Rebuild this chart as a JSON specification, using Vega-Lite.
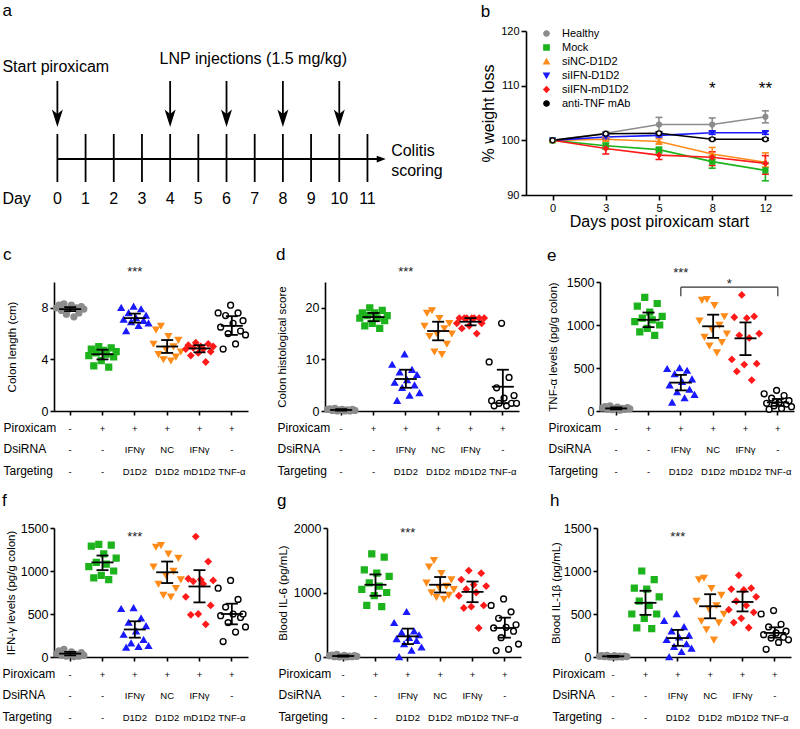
{
"$schema": "https://vega.github.io/schema/vega-lite/v6.json",
"padding": {"left": 2, "top": 2, "right": 2, "bottom": 2},
"background": "white",
"columns": 1,
"spacing": 16,
"config": {
 "font": "Liberation Sans",
 "view": {"stroke": null},
 "axis": {"grid": false, "domainColor": "#000", "domainWidth": 1.6, "tickColor": "#000", "tickWidth": 1.6, "tickSize": 4, "labelColor": "#000", "titleColor": "#000", "labelFontSize": 12, "titleFontSize": 12, "titleFontWeight": "normal", "labelFont": "Liberation Sans", "titleFont": "Liberation Sans"},
 "title": {"fontSize": 17, "fontWeight": "normal", "anchor": "start", "offset": 4, "color": "#000", "font": "Liberation Sans"},
 "text": {"font": "Liberation Sans", "color": "#000"}
},
"resolve": {"scale": {"shape": "independent", "fill": "independent", "stroke": "independent", "color": "independent"}, "legend": {"shape": "independent", "fill": "independent", "stroke": "independent", "color": "independent"}},
"datasets": {
 "tl": [
  {"x": 0, "x2": 11.5, "y": 128, "y2": 128},
  {"x": 0, "x2": 0, "y": 103, "y2": 151}, {"x": 1, "x2": 1, "y": 103, "y2": 151}, {"x": 2, "x2": 2, "y": 103, "y2": 151}, {"x": 3, "x2": 3, "y": 103, "y2": 151},
  {"x": 4, "x2": 4, "y": 103, "y2": 151}, {"x": 5, "x2": 5, "y": 103, "y2": 151}, {"x": 6, "x2": 6, "y": 103, "y2": 151}, {"x": 7, "x2": 7, "y": 103, "y2": 151},
  {"x": 8, "x2": 8, "y": 103, "y2": 151}, {"x": 9, "x2": 9, "y": 103, "y2": 151}, {"x": 10, "x2": 10, "y": 103, "y2": 151}, {"x": 11, "x2": 11, "y": 103, "y2": 151},
  {"x": 0, "x2": 0, "y": 50, "y2": 88}, {"x": 4, "x2": 4, "y": 50, "y2": 88}, {"x": 6, "x2": 6, "y": 50, "y2": 88}, {"x": 8, "x2": 8, "y": 50, "y2": 88}, {"x": 10, "x2": 10, "y": 50, "y2": 88}
 ],
 "heads": [{"x": 0, "y": 86}, {"x": 4, "y": 86}, {"x": 6, "y": 86}, {"x": 8, "y": 86}, {"x": 10, "y": 86}],
 "headR": [{"x": 11.49, "y": 128}],
 "txtL": [{"x": -1.95, "y": 36, "t": "Start piroxicam"}, {"x": -1.95, "y": 168, "t": "Day"}, {"x": 11.84, "y": 120, "t": "Colitis"}, {"x": 11.84, "y": 140, "t": "scoring"}],
 "txtC": [{"x": 6.95, "y": 28, "t": "LNP injections (1.5 mg/kg)"},
  {"x": 0, "y": 168, "t": "0"}, {"x": 1, "y": 168, "t": "1"}, {"x": 2, "y": 168, "t": "2"}, {"x": 3, "y": 168, "t": "3"}, {"x": 4, "y": 168, "t": "4"}, {"x": 5, "y": 168, "t": "5"},
  {"x": 6, "y": 168, "t": "6"}, {"x": 7, "y": 168, "t": "7"}, {"x": 8, "y": 168, "t": "8"}, {"x": 9, "y": 168, "t": "9"}, {"x": 10, "y": 168, "t": "10"}, {"x": 11, "y": 168, "t": "11"}],
 "wt": [
  {"d": 0, "g": "Healthy", "v": 100, "lo": 100, "hi": 100}, {"d": 3, "g": "Healthy", "v": 101.3, "lo": 101.0, "hi": 101.6}, {"d": 5, "g": "Healthy", "v": 102.9, "lo": 101.6, "hi": 104.2}, {"d": 8, "g": "Healthy", "v": 102.9, "lo": 101.6, "hi": 104.1}, {"d": 12, "g": "Healthy", "v": 104.3, "lo": 103.2, "hi": 105.4},
  {"d": 0, "g": "Mock", "v": 100, "lo": 100, "hi": 100}, {"d": 3, "g": "Mock", "v": 99.0, "lo": 98.4, "hi": 99.5}, {"d": 5, "g": "Mock", "v": 98.3, "lo": 97.7, "hi": 98.7}, {"d": 8, "g": "Mock", "v": 96.1, "lo": 94.9, "hi": 97.2}, {"d": 12, "g": "Mock", "v": 94.5, "lo": 92.6, "hi": 95.9},
  {"d": 0, "g": "siNC-D1D2", "v": 100, "lo": 100, "hi": 100}, {"d": 3, "g": "siNC-D1D2", "v": 100.2, "lo": 99.9, "hi": 100.5}, {"d": 5, "g": "siNC-D1D2", "v": 99.8, "lo": 99.3, "hi": 100.3}, {"d": 8, "g": "siNC-D1D2", "v": 97.5, "lo": 96.5, "hi": 98.7}, {"d": 12, "g": "siNC-D1D2", "v": 96.0, "lo": 95.1, "hi": 97.7},
  {"d": 0, "g": "siIFN-D1D2", "v": 100, "lo": 100, "hi": 100}, {"d": 3, "g": "siIFN-D1D2", "v": 100.6, "lo": 100.3, "hi": 100.9}, {"d": 5, "g": "siIFN-D1D2", "v": 100.9, "lo": 100.6, "hi": 101.2}, {"d": 8, "g": "siIFN-D1D2", "v": 101.4, "lo": 101.1, "hi": 101.7}, {"d": 12, "g": "siIFN-D1D2", "v": 101.4, "lo": 101.1, "hi": 101.7},
  {"d": 0, "g": "siIFN-mD1D2", "v": 100, "lo": 100, "hi": 100}, {"d": 3, "g": "siIFN-mD1D2", "v": 98.5, "lo": 97.5, "hi": 99.0}, {"d": 5, "g": "siIFN-mD1D2", "v": 97.3, "lo": 96.5, "hi": 98.1}, {"d": 8, "g": "siIFN-mD1D2", "v": 96.9, "lo": 95.4, "hi": 97.9}, {"d": 12, "g": "siIFN-mD1D2", "v": 95.8, "lo": 93.8, "hi": 97.2},
  {"d": 0, "g": "anti-TNF mAb", "v": 100, "lo": 100, "hi": 100}, {"d": 3, "g": "anti-TNF mAb", "v": 101.2, "lo": 101.0, "hi": 101.4}, {"d": 5, "g": "anti-TNF mAb", "v": 101.3, "lo": 101.1, "hi": 101.5}, {"d": 8, "g": "anti-TNF mAb", "v": 100.2, "lo": 100.0, "hi": 100.4}, {"d": 12, "g": "anti-TNF mAb", "v": 100.2, "lo": 100.0, "hi": 100.4}
 ],
 "wtstar": [{"d": 8, "v": 109.3, "t": "*"}, {"d": 12, "v": 109.3, "t": "**"}],
 "pts": [
  {"p": "c", "g": "Healthy", "vals": [8.0, 8.2, 7.8, 8.3, 7.5, 7.9, 8.2, 7.3, 8.0, 7.6, 8.1, 7.9]},
  {"p": "c", "g": "Mock", "vals": [4.3, 4.8, 3.5, 4.5, 5.0, 3.9, 4.7, 4.4, 3.4, 4.9, 4.2, 4.6]},
  {"p": "c", "g": "siIFN-D1D2", "vals": [8.0, 7.1, 6.2, 7.6, 6.9, 8.1, 7.2, 6.6, 7.9, 7.0, 7.4, 6.8]},
  {"p": "c", "g": "siNC-D1D2", "vals": [5.2, 6.3, 4.4, 6.6, 4.0, 4.8, 5.8, 3.9, 5.0, 4.2, 5.5, 4.6]},
  {"p": "c", "g": "siIFN-mD1D2", "vals": [4.8, 5.1, 4.3, 4.9, 5.3, 4.5, 5.0, 4.8, 3.8, 5.2, 4.6, 5.0]},
  {"p": "c", "g": "anti-TNF mAb", "vals": [7.6, 6.5, 4.8, 7.4, 6.0, 8.2, 6.8, 5.2, 7.6, 6.2, 7.0, 5.9]},
  {"p": "d", "g": "Healthy", "vals": [0.3, 0.4, 0.1, 0.5, 0, 0.2, 0.3, 0, 0.2, 0, 0.3, 0.1]},
  {"p": "d", "g": "Mock", "vals": [18, 19, 16.5, 18.5, 20, 17, 19, 18, 16, 19.5, 17.5, 18.5]},
  {"p": "d", "g": "siIFN-D1D2", "vals": [9, 5.5, 2, 7.5, 4.5, 11, 6, 3, 8, 5, 7, 3.5]},
  {"p": "d", "g": "siNC-D1D2", "vals": [16.5, 19, 14.5, 19.5, 11.5, 15, 18, 11, 16, 13, 17, 15]},
  {"p": "d", "g": "siIFN-mD1D2", "vals": [17, 18, 16, 18, 18, 16.5, 18, 18, 15, 18, 17, 18]},
  {"p": "d", "g": "anti-TNF mAb", "vals": [9.5, 2.0, 1.0, 4.5, 1.5, 17, 2.5, 1.0, 6.5, 1.5, 3.0, 1.5]},
  {"p": "e", "g": "Healthy", "vals": [35, 50, 20, 60, 15, 30, 45, 10, 30, 20, 40, 25]},
  {"p": "e", "g": "Mock", "vals": [1040, 1220, 920, 1080, 1320, 960, 1150, 1060, 880, 1250, 1000, 1100]},
  {"p": "e", "g": "siIFN-D1D2", "vals": [490, 300, 100, 430, 220, 500, 340, 150, 470, 250, 370, 190]},
  {"p": "e", "g": "siNC-D1D2", "vals": [1050, 1290, 860, 1300, 760, 950, 1230, 680, 1000, 800, 1100, 900]},
  {"p": "e", "g": "siIFN-mD1D2", "vals": [600, 1090, 460, 880, 1350, 540, 1080, 850, 360, 1100, 550, 900]},
  {"p": "e", "g": "anti-TNF mAb", "vals": [200, 90, 20, 150, 60, 240, 100, 30, 180, 80, 120, 50]},
  {"p": "f", "g": "Healthy", "vals": [40, 70, 20, 90, 10, 30, 60, 5, 30, 10, 50, 20]},
  {"p": "f", "g": "Mock", "vals": [1050, 1290, 920, 1100, 1310, 950, 1200, 1080, 900, 1300, 1000, 1150]},
  {"p": "f", "g": "siIFN-D1D2", "vals": [560, 260, 110, 400, 160, 570, 300, 120, 450, 200, 360, 130]},
  {"p": "f", "g": "siNC-D1D2", "vals": [1050, 1280, 850, 1300, 720, 950, 1200, 700, 1000, 800, 1150, 900]},
  {"p": "f", "g": "siIFN-mD1D2", "vals": [700, 910, 490, 880, 1400, 500, 900, 850, 380, 1110, 600, 890]},
  {"p": "f", "g": "anti-TNF mAb", "vals": [800, 480, 180, 580, 400, 890, 500, 290, 670, 460, 500, 350]},
  {"p": "g", "g": "Healthy", "vals": [20, 30, 5, 40, 0, 10, 25, 0, 15, 5, 20, 10]},
  {"p": "g", "g": "Mock", "vals": [1050, 1350, 800, 1150, 1600, 950, 1300, 1100, 780, 1550, 1000, 1250]},
  {"p": "g", "g": "siIFN-D1D2", "vals": [530, 280, 0, 380, 200, 700, 300, 100, 400, 250, 340, 150]},
  {"p": "g", "g": "siNC-D1D2", "vals": [1150, 1400, 1000, 1500, 930, 1080, 1300, 900, 1100, 960, 1200, 1050]},
  {"p": "g", "g": "siIFN-mD1D2", "vals": [950, 1200, 760, 1050, 1340, 780, 1120, 1000, 450, 1300, 800, 1100]},
  {"p": "g", "g": "anti-TNF mAb", "vals": [800, 450, 100, 600, 300, 900, 460, 120, 700, 400, 500, 200]},
  {"p": "h", "g": "Healthy", "vals": [10, 15, 5, 20, 0, 5, 15, 0, 10, 0, 10, 5]},
  {"p": "h", "g": "Mock", "vals": [500, 800, 340, 650, 1000, 450, 790, 600, 330, 900, 500, 700]},
  {"p": "h", "g": "siIFN-D1D2", "vals": [420, 200, 0, 300, 120, 500, 230, 60, 350, 150, 250, 100]},
  {"p": "h", "g": "siNC-D1D2", "vals": [650, 900, 420, 920, 320, 560, 800, 200, 600, 400, 720, 500]},
  {"p": "h", "g": "siIFN-mD1D2", "vals": [550, 790, 400, 650, 950, 450, 780, 600, 340, 800, 520, 700]},
  {"p": "h", "g": "anti-TNF mAb", "vals": [500, 260, 90, 350, 220, 540, 280, 170, 380, 230, 300, 200]}
 ],
 "sum": [
  {"p": "c", "g": "Healthy", "m": 7.9, "lo": 7.75, "hi": 8.05}, {"p": "c", "g": "Mock", "m": 4.4, "lo": 4.0, "hi": 4.75}, {"p": "c", "g": "siIFN-D1D2", "m": 7.2, "lo": 6.85, "hi": 7.55}, {"p": "c", "g": "siNC-D1D2", "m": 5.0, "lo": 4.5, "hi": 5.5}, {"p": "c", "g": "siIFN-mD1D2", "m": 4.85, "lo": 4.55, "hi": 5.1}, {"p": "c", "g": "anti-TNF mAb", "m": 6.6, "lo": 5.9, "hi": 7.35},
  {"p": "d", "g": "Healthy", "m": 0.2, "lo": 0.1, "hi": 0.35}, {"p": "d", "g": "Mock", "m": 18.2, "lo": 17.4, "hi": 19.0}, {"p": "d", "g": "siIFN-D1D2", "m": 6.2, "lo": 4.5, "hi": 8.0}, {"p": "d", "g": "siNC-D1D2", "m": 15.5, "lo": 13.7, "hi": 17.3}, {"p": "d", "g": "siIFN-mD1D2", "m": 17.3, "lo": 16.6, "hi": 18.0}, {"p": "d", "g": "anti-TNF mAb", "m": 4.7, "lo": 1.5, "hi": 8.0},
  {"p": "e", "g": "Healthy", "m": 30, "lo": 20, "hi": 42}, {"p": "e", "g": "Mock", "m": 1060, "lo": 975, "hi": 1145}, {"p": "e", "g": "siIFN-D1D2", "m": 330, "lo": 240, "hi": 420}, {"p": "e", "g": "siNC-D1D2", "m": 985, "lo": 850, "hi": 1120}, {"p": "e", "g": "siIFN-mD1D2", "m": 845, "lo": 650, "hi": 1030}, {"p": "e", "g": "anti-TNF mAb", "m": 100, "lo": 60, "hi": 140},
  {"p": "f", "g": "Healthy", "m": 40, "lo": 20, "hi": 60}, {"p": "f", "g": "Mock", "m": 1100, "lo": 1010, "hi": 1180}, {"p": "f", "g": "siIFN-D1D2", "m": 320, "lo": 225, "hi": 415}, {"p": "f", "g": "siNC-D1D2", "m": 985, "lo": 860, "hi": 1110}, {"p": "f", "g": "siIFN-mD1D2", "m": 820, "lo": 635, "hi": 1010}, {"p": "f", "g": "anti-TNF mAb", "m": 500, "lo": 380, "hi": 620},
  {"p": "g", "g": "Healthy", "m": 15, "lo": 5, "hi": 25}, {"p": "g", "g": "Mock", "m": 1120, "lo": 950, "hi": 1280}, {"p": "g", "g": "siIFN-D1D2", "m": 320, "lo": 200, "hi": 440}, {"p": "g", "g": "siNC-D1D2", "m": 1120, "lo": 1000, "hi": 1240}, {"p": "g", "g": "siIFN-mD1D2", "m": 1010, "lo": 850, "hi": 1170}, {"p": "g", "g": "anti-TNF mAb", "m": 450, "lo": 300, "hi": 610},
  {"p": "h", "g": "Healthy", "m": 8, "lo": 3, "hi": 13}, {"p": "h", "g": "Mock", "m": 630, "lo": 490, "hi": 770}, {"p": "h", "g": "siIFN-D1D2", "m": 220, "lo": 130, "hi": 315}, {"p": "h", "g": "siNC-D1D2", "m": 590, "lo": 450, "hi": 730}, {"p": "h", "g": "siIFN-mD1D2", "m": 640, "lo": 530, "hi": 760}, {"p": "h", "g": "anti-TNF mAb", "m": 280, "lo": 225, "hi": 345}
 ],
 "stars": [
  {"p": "c", "g": "siIFN-D1D2", "v": 10.8, "t": "***"},
  {"p": "d", "g": "siIFN-D1D2", "v": 27.0, "t": "***"},
  {"p": "e", "g": "siIFN-D1D2", "v": 1610, "t": "***"},
  {"p": "f", "g": "siIFN-D1D2", "v": 1400, "t": "***"},
  {"p": "g", "g": "siIFN-D1D2", "v": 1930, "t": "***"},
  {"p": "h", "g": "siIFN-D1D2", "v": 1390, "t": "***"},
  {"p": "e2", "g": "siNC-D1D2", "v": 1480, "t": "*"}
 ],
 "brk": [
  {"g": "siIFN-D1D2", "g2": "anti-TNF mAb", "v": 1440, "v2": 1440},
  {"g": "siIFN-D1D2", "g2": "siIFN-D1D2", "v": 1440, "v2": 1335},
  {"g": "anti-TNF mAb", "g2": "anti-TNF mAb", "v": 1440, "v2": 1335}
 ]
},
"concat": [
 {
  "hconcat": [
   {
    "title": {"text": "a", "offset": 11},
    "width": 389, "height": 180,
    "layer": [
     {"data": {"name": "tl"}, "mark": {"type": "rule", "strokeWidth": 1.8, "color": "#000"},
      "encoding": {"x": {"field": "x", "type": "quantitative", "scale": {"domain": [-0.12, 13.68], "nice": false}, "axis": null}, "x2": {"field": "x2"},
       "y": {"field": "y", "type": "quantitative", "scale": {"domain": [0, 180], "nice": false, "reverse": true}, "axis": null}, "y2": {"field": "y2"}}},
     {"data": {"name": "heads"}, "mark": {"type": "point", "shape": "M0,1L-0.55,-0.75L0,-0.3L0.55,-0.75Z", "size": 400, "filled": true, "color": "#000", "opacity": 1},
      "encoding": {"x": {"field": "x", "type": "quantitative", "scale": {"domain": [-0.12, 13.68], "nice": false}, "axis": null},
       "y": {"field": "y", "type": "quantitative", "scale": {"domain": [0, 180], "nice": false, "reverse": true}, "axis": null}}},
     {"data": {"name": "headR"}, "mark": {"type": "point", "shape": "M1,0L-1,-0.75L-1,0.75Z", "size": 81, "filled": true, "color": "#000", "opacity": 1},
      "encoding": {"x": {"field": "x", "type": "quantitative", "scale": {"domain": [-0.12, 13.68], "nice": false}, "axis": null},
       "y": {"field": "y", "type": "quantitative", "scale": {"domain": [0, 180], "nice": false, "reverse": true}, "axis": null}}},
     {"data": {"name": "txtL"}, "mark": {"type": "text", "fontSize": 16, "align": "left", "baseline": "middle"},
      "encoding": {"x": {"field": "x", "type": "quantitative", "scale": {"domain": [-0.12, 13.68], "nice": false}, "axis": null},
       "y": {"field": "y", "type": "quantitative", "scale": {"domain": [0, 180], "nice": false, "reverse": true}, "axis": null}, "text": {"field": "t"}}},
     {"data": {"name": "txtC"}, "mark": {"type": "text", "fontSize": 16, "align": "center", "baseline": "middle"},
      "encoding": {"x": {"field": "x", "type": "quantitative", "scale": {"domain": [-0.12, 13.68], "nice": false}, "axis": null},
       "y": {"field": "y", "type": "quantitative", "scale": {"domain": [0, 180], "nice": false, "reverse": true}, "axis": null}, "text": {"field": "t"}}}
    ]
   },
   {
    "title": {"text": "b", "offset": 4},
    "width": 266, "height": 164,
    "layer": [
     {"data": {"name": "wt"}, "mark": {"type": "line", "strokeWidth": 1.6},
      "encoding": {
       "x": {"field": "d", "type": "ordinal", "scale": {"type": "point", "padding": 0.5}, "axis": {"title": "Days post piroxicam start", "labelAngle": 0, "labelFontSize": 11, "titleFontSize": 16, "titlePadding": 0, "tickSize": 5, "labelPadding": 2}},
       "y": {"field": "v", "type": "quantitative", "scale": {"domain": [90, 120], "nice": false}, "axis": {"values": [90, 100, 110, 120], "title": "% weight loss", "titleFontSize": 16, "labelFontSize": 11, "tickSize": 5, "titlePadding": 4}},
       "stroke": {"field": "g", "type": "nominal", "scale": {"domain": ["Healthy", "Mock", "siNC-D1D2", "siIFN-D1D2", "siIFN-mD1D2", "anti-TNF mAb"], "range": ["#8c8c8c", "#1db31d", "#ff8c1a", "#1a1aff", "#ff1a1a", "#000000"]}}}},
     {"data": {"name": "wt"}, "mark": {"type": "rule", "strokeWidth": 1.6},
      "encoding": {
       "x": {"field": "d", "type": "ordinal", "scale": {"type": "point", "padding": 0.5}},
       "y": {"field": "lo", "type": "quantitative", "scale": {"domain": [90, 120], "nice": false}}, "y2": {"field": "hi"},
       "stroke": {"field": "g", "type": "nominal", "scale": {"domain": ["Healthy", "Mock", "siNC-D1D2", "siIFN-D1D2", "siIFN-mD1D2", "anti-TNF mAb"], "range": ["#8c8c8c", "#1db31d", "#ff8c1a", "#1a1aff", "#ff1a1a", "#000000"]}}}},
     {"data": {"name": "wt"}, "mark": {"type": "tick", "size": 7, "thickness": 1.6, "opacity": 1},
      "encoding": {
       "x": {"field": "d", "type": "ordinal", "scale": {"type": "point", "padding": 0.5}},
       "y": {"field": "lo", "type": "quantitative", "scale": {"domain": [90, 120], "nice": false}},
       "color": {"field": "g", "type": "nominal", "scale": {"domain": ["Healthy", "Mock", "siNC-D1D2", "siIFN-D1D2", "siIFN-mD1D2", "anti-TNF mAb"], "range": ["#8c8c8c", "#1db31d", "#ff8c1a", "#1a1aff", "#ff1a1a", "#000000"]}, "legend": null}}},
     {"data": {"name": "wt"}, "mark": {"type": "tick", "size": 7, "thickness": 1.6, "opacity": 1},
      "encoding": {
       "x": {"field": "d", "type": "ordinal", "scale": {"type": "point", "padding": 0.5}},
       "y": {"field": "hi", "type": "quantitative", "scale": {"domain": [90, 120], "nice": false}},
       "color": {"field": "g", "type": "nominal", "scale": {"domain": ["Healthy", "Mock", "siNC-D1D2", "siIFN-D1D2", "siIFN-mD1D2", "anti-TNF mAb"], "range": ["#8c8c8c", "#1db31d", "#ff8c1a", "#1a1aff", "#ff1a1a", "#000000"]}, "legend": null}}},
     {"data": {"name": "wt"}, "mark": {"type": "point", "size": 24, "strokeWidth": 1.3, "opacity": 1},
      "encoding": {
       "x": {"field": "d", "type": "ordinal", "scale": {"type": "point", "padding": 0.5}},
       "y": {"field": "v", "type": "quantitative", "scale": {"domain": [90, 120], "nice": false}},
       "shape": {"field": "g", "type": "nominal", "scale": {"domain": ["Healthy", "Mock", "siNC-D1D2", "siIFN-D1D2", "siIFN-mD1D2", "anti-TNF mAb"], "range": ["circle", "square", "triangle-up", "triangle-down", "diamond", "circle"]}, "legend": {"orient": "none", "legendX": 15, "legendY": -3, "title": null, "labelFontSize": 11, "symbolSize": 28, "rowPadding": 2, "symbolStrokeWidth": 1.4, "labelOffset": 10, "padding": 0, "labelColor": "#000"}},
       "fill": {"field": "g", "type": "nominal", "scale": {"domain": ["Healthy", "Mock", "siNC-D1D2", "siIFN-D1D2", "siIFN-mD1D2", "anti-TNF mAb"], "range": ["#8c8c8c", "#1db31d", "#ff8c1a", "#1a1aff", "#ff1a1a", "#ffffff"]}, "legend": {"orient": "none", "legendX": 15, "legendY": -3, "title": null, "labelFontSize": 11, "symbolSize": 28, "rowPadding": 2, "symbolStrokeWidth": 1.4, "labelOffset": 10, "padding": 0, "labelColor": "#000"}},
       "stroke": {"field": "g", "type": "nominal", "scale": {"domain": ["Healthy", "Mock", "siNC-D1D2", "siIFN-D1D2", "siIFN-mD1D2", "anti-TNF mAb"], "range": ["#8c8c8c", "#1db31d", "#ff8c1a", "#1a1aff", "#ff1a1a", "#000000"]}, "legend": {"orient": "none", "legendX": 15, "legendY": -3, "title": null, "labelFontSize": 11, "symbolSize": 28, "rowPadding": 2, "symbolStrokeWidth": 1.4, "labelOffset": 10, "padding": 0, "labelColor": "#000"}}}},
     {"data": {"name": "wtstar"}, "mark": {"type": "text", "fontSize": 17, "baseline": "middle"},
      "encoding": {
       "x": {"field": "d", "type": "ordinal", "scale": {"type": "point", "padding": 0.5}},
       "y": {"field": "v", "type": "quantitative", "scale": {"domain": [90, 120], "nice": false}},
       "text": {"field": "t"}}}
    ]
   }
  ],
  "spacing": 37,
  "resolve": {"scale": {"shape": "independent", "fill": "independent", "stroke": "independent", "color": "independent"}, "legend": {"shape": "independent", "fill": "independent", "stroke": "independent", "color": "independent"}}
 },
 {
  "hconcat": [
   {
    "title": {"text": "c", "offset": 2},
    "width": 194, "height": 129,
    "layer": [
     {"data": {"name": "pts"}, "transform": [{"filter": "datum.p=='c'"}, {"flatten": ["vals"], "as": ["v"]}, {"window": [{"op": "row_number", "as": "r"}], "groupby": ["g"]}],
      "mark": {"type": "point", "size": 34, "strokeWidth": 1.4, "opacity": 1},
      "encoding": {
       "x": {"field": "g", "type": "nominal", "scale": {"type": "band", "domain": ["Healthy", "Mock", "siIFN-D1D2", "siNC-D1D2", "siIFN-mD1D2", "anti-TNF mAb"], "paddingInner": 0, "paddingOuter": 0},
        "axis": {"title": ["Piroxicam", "DsiRNA", "Targeting"], "titleX": -51, "titleY": 11, "titleAlign": "left", "titleAngle": 0, "titleBaseline": "top", "titleFontSize": 12, "titleLineHeight": 21.5, "labelExpr": "datum.value=='Healthy'?['-','-','-']:datum.value=='Mock'?['+','-','-']:datum.value=='siIFN-D1D2'?['+','IFNγ','D1D2']:datum.value=='siNC-D1D2'?['+','NC','D1D2']:datum.value=='siIFN-mD1D2'?['+','IFNγ','mD1D2']:['+','-','TNF-α']", "labelAngle": 0, "labelFontSize": 9.5, "labelLineHeight": 21.5, "labelPadding": 8, "labelOverlap": false, "labelBound": false, "labelBaseline": "top"}},
       "xOffset": {"field": "r", "type": "ordinal", "scale": {"paddingOuter": 2}},
       "y": {"field": "v", "type": "quantitative", "scale": {"domain": [0, 10], "nice": false}, "axis": {"values": [0, 2, 4, 6, 8, 10], "format": "d", "title": "Colon length (cm)", "titleX": -42, "titleY": 64.5, "titleAngle": -90, "titleAlign": "center", "titleBaseline": "middle", "titleFontSize": 11.5, "labelFontSize": 12.5, "labelPadding": 2}},
       "shape": {"field": "g", "type": "nominal", "scale": {"domain": ["Healthy", "Mock", "siIFN-D1D2", "siNC-D1D2", "siIFN-mD1D2", "anti-TNF mAb"], "range": ["circle", "square", "triangle-up", "triangle-down", "diamond", "circle"]}, "legend": null},
       "fill": {"field": "g", "type": "nominal", "scale": {"domain": ["Healthy", "Mock", "siIFN-D1D2", "siNC-D1D2", "siIFN-mD1D2", "anti-TNF mAb"], "range": ["#8c8c8c", "#1db31d", "#1a1aff", "#ff8c1a", "#ff1a1a", "#ffffff"]}, "legend": null},
       "stroke": {"field": "g", "type": "nominal", "scale": {"domain": ["Healthy", "Mock", "siIFN-D1D2", "siNC-D1D2", "siIFN-mD1D2", "anti-TNF mAb"], "range": ["#8c8c8c", "#1db31d", "#1a1aff", "#ff8c1a", "#ff1a1a", "#000000"]}, "legend": null}}},
     {"data": {"name": "sum"}, "transform": [{"filter": "datum.p=='c'"}], "mark": {"type": "rule", "strokeWidth": 1.8, "color": "#000"},
      "encoding": {"x": {"field": "g", "type": "nominal", "scale": {"type": "band", "domain": ["Healthy", "Mock", "siIFN-D1D2", "siNC-D1D2", "siIFN-mD1D2", "anti-TNF mAb"], "paddingInner": 0, "paddingOuter": 0}},
       "y": {"field": "lo", "type": "quantitative", "scale": {"domain": [0, 10], "nice": false}}, "y2": {"field": "hi"}}},
     {"data": {"name": "sum"}, "transform": [{"filter": "datum.p=='c'"}], "mark": {"type": "tick", "size": 22, "thickness": 1.8, "color": "#000", "opacity": 1},
      "encoding": {"x": {"field": "g", "type": "nominal", "scale": {"type": "band", "domain": ["Healthy", "Mock", "siIFN-D1D2", "siNC-D1D2", "siIFN-mD1D2", "anti-TNF mAb"], "paddingInner": 0, "paddingOuter": 0}},
       "y": {"field": "m", "type": "quantitative", "scale": {"domain": [0, 10], "nice": false}}}},
     {"data": {"name": "sum"}, "transform": [{"filter": "datum.p=='c'"}], "mark": {"type": "tick", "size": 12, "thickness": 1.8, "color": "#000", "opacity": 1},
      "encoding": {"x": {"field": "g", "type": "nominal", "scale": {"type": "band", "domain": ["Healthy", "Mock", "siIFN-D1D2", "siNC-D1D2", "siIFN-mD1D2", "anti-TNF mAb"], "paddingInner": 0, "paddingOuter": 0}},
       "y": {"field": "lo", "type": "quantitative", "scale": {"domain": [0, 10], "nice": false}}}},
     {"data": {"name": "sum"}, "transform": [{"filter": "datum.p=='c'"}], "mark": {"type": "tick", "size": 12, "thickness": 1.8, "color": "#000", "opacity": 1},
      "encoding": {"x": {"field": "g", "type": "nominal", "scale": {"type": "band", "domain": ["Healthy", "Mock", "siIFN-D1D2", "siNC-D1D2", "siIFN-mD1D2", "anti-TNF mAb"], "paddingInner": 0, "paddingOuter": 0}},
       "y": {"field": "hi", "type": "quantitative", "scale": {"domain": [0, 10], "nice": false}}}},
     {"data": {"name": "stars"}, "transform": [{"filter": "datum.p=='c'"}], "mark": {"type": "text", "fontSize": 13, "baseline": "middle", "color": "#222"},
      "encoding": {"x": {"field": "g", "type": "nominal", "scale": {"type": "band", "domain": ["Healthy", "Mock", "siIFN-D1D2", "siNC-D1D2", "siIFN-mD1D2", "anti-TNF mAb"], "paddingInner": 0, "paddingOuter": 0}},
       "y": {"field": "v", "type": "quantitative", "scale": {"domain": [0, 10], "nice": false}}, "text": {"field": "t"}}}
    ]
   },
   {
    "title": {"text": "d", "offset": 2},
    "width": 194, "height": 129,
    "layer": [
     {"data": {"name": "pts"}, "transform": [{"filter": "datum.p=='d'"}, {"flatten": ["vals"], "as": ["v"]}, {"window": [{"op": "row_number", "as": "r"}], "groupby": ["g"]}],
      "mark": {"type": "point", "size": 34, "strokeWidth": 1.4, "opacity": 1},
      "encoding": {
       "x": {"field": "g", "type": "nominal", "scale": {"type": "band", "domain": ["Healthy", "Mock", "siIFN-D1D2", "siNC-D1D2", "siIFN-mD1D2", "anti-TNF mAb"], "paddingInner": 0, "paddingOuter": 0},
        "axis": {"title": ["Piroxicam", "DsiRNA", "Targeting"], "titleX": -48, "titleY": 11, "titleAlign": "left", "titleAngle": 0, "titleBaseline": "top", "titleFontSize": 12, "titleLineHeight": 21.5, "labelExpr": "datum.value=='Healthy'?['-','-','-']:datum.value=='Mock'?['+','-','-']:datum.value=='siIFN-D1D2'?['+','IFNγ','D1D2']:datum.value=='siNC-D1D2'?['+','NC','D1D2']:datum.value=='siIFN-mD1D2'?['+','IFNγ','mD1D2']:['+','-','TNF-α']", "labelAngle": 0, "labelFontSize": 9.5, "labelLineHeight": 21.5, "labelPadding": 8, "labelOverlap": false, "labelBound": false, "labelBaseline": "top"}},
       "xOffset": {"field": "r", "type": "ordinal", "scale": {"paddingOuter": 2}},
       "y": {"field": "v", "type": "quantitative", "scale": {"domain": [0, 25], "nice": false}, "axis": {"values": [0, 5, 10, 15, 20, 25], "format": "d", "title": "Colon histological score", "titleX": -43, "titleY": 64.5, "titleAngle": -90, "titleAlign": "center", "titleBaseline": "middle", "titleFontSize": 11.5, "labelFontSize": 12.5, "labelPadding": 2}},
       "shape": {"field": "g", "type": "nominal", "scale": {"domain": ["Healthy", "Mock", "siIFN-D1D2", "siNC-D1D2", "siIFN-mD1D2", "anti-TNF mAb"], "range": ["circle", "square", "triangle-up", "triangle-down", "diamond", "circle"]}, "legend": null},
       "fill": {"field": "g", "type": "nominal", "scale": {"domain": ["Healthy", "Mock", "siIFN-D1D2", "siNC-D1D2", "siIFN-mD1D2", "anti-TNF mAb"], "range": ["#8c8c8c", "#1db31d", "#1a1aff", "#ff8c1a", "#ff1a1a", "#ffffff"]}, "legend": null},
       "stroke": {"field": "g", "type": "nominal", "scale": {"domain": ["Healthy", "Mock", "siIFN-D1D2", "siNC-D1D2", "siIFN-mD1D2", "anti-TNF mAb"], "range": ["#8c8c8c", "#1db31d", "#1a1aff", "#ff8c1a", "#ff1a1a", "#000000"]}, "legend": null}}},
     {"data": {"name": "sum"}, "transform": [{"filter": "datum.p=='d'"}], "mark": {"type": "rule", "strokeWidth": 1.8, "color": "#000"},
      "encoding": {"x": {"field": "g", "type": "nominal", "scale": {"type": "band", "domain": ["Healthy", "Mock", "siIFN-D1D2", "siNC-D1D2", "siIFN-mD1D2", "anti-TNF mAb"], "paddingInner": 0, "paddingOuter": 0}},
       "y": {"field": "lo", "type": "quantitative", "scale": {"domain": [0, 25], "nice": false}}, "y2": {"field": "hi"}}},
     {"data": {"name": "sum"}, "transform": [{"filter": "datum.p=='d'"}], "mark": {"type": "tick", "size": 22, "thickness": 1.8, "color": "#000", "opacity": 1},
      "encoding": {"x": {"field": "g", "type": "nominal", "scale": {"type": "band", "domain": ["Healthy", "Mock", "siIFN-D1D2", "siNC-D1D2", "siIFN-mD1D2", "anti-TNF mAb"], "paddingInner": 0, "paddingOuter": 0}},
       "y": {"field": "m", "type": "quantitative", "scale": {"domain": [0, 25], "nice": false}}}},
     {"data": {"name": "sum"}, "transform": [{"filter": "datum.p=='d'"}], "mark": {"type": "tick", "size": 12, "thickness": 1.8, "color": "#000", "opacity": 1},
      "encoding": {"x": {"field": "g", "type": "nominal", "scale": {"type": "band", "domain": ["Healthy", "Mock", "siIFN-D1D2", "siNC-D1D2", "siIFN-mD1D2", "anti-TNF mAb"], "paddingInner": 0, "paddingOuter": 0}},
       "y": {"field": "lo", "type": "quantitative", "scale": {"domain": [0, 25], "nice": false}}}},
     {"data": {"name": "sum"}, "transform": [{"filter": "datum.p=='d'"}], "mark": {"type": "tick", "size": 12, "thickness": 1.8, "color": "#000", "opacity": 1},
      "encoding": {"x": {"field": "g", "type": "nominal", "scale": {"type": "band", "domain": ["Healthy", "Mock", "siIFN-D1D2", "siNC-D1D2", "siIFN-mD1D2", "anti-TNF mAb"], "paddingInner": 0, "paddingOuter": 0}},
       "y": {"field": "hi", "type": "quantitative", "scale": {"domain": [0, 25], "nice": false}}}},
     {"data": {"name": "stars"}, "transform": [{"filter": "datum.p=='d'"}], "mark": {"type": "text", "fontSize": 13, "baseline": "middle", "color": "#222"},
      "encoding": {"x": {"field": "g", "type": "nominal", "scale": {"type": "band", "domain": ["Healthy", "Mock", "siIFN-D1D2", "siNC-D1D2", "siIFN-mD1D2", "anti-TNF mAb"], "paddingInner": 0, "paddingOuter": 0}},
       "y": {"field": "v", "type": "quantitative", "scale": {"domain": [0, 25], "nice": false}}, "text": {"field": "t"}}}
    ]
   },
   {
    "title": {"text": "e", "offset": 2},
    "width": 194, "height": 129,
    "layer": [
     {"data": {"name": "pts"}, "transform": [{"filter": "datum.p=='e'"}, {"flatten": ["vals"], "as": ["v"]}, {"window": [{"op": "row_number", "as": "r"}], "groupby": ["g"]}],
      "mark": {"type": "point", "size": 34, "strokeWidth": 1.4, "opacity": 1},
      "encoding": {
       "x": {"field": "g", "type": "nominal", "scale": {"type": "band", "domain": ["Healthy", "Mock", "siIFN-D1D2", "siNC-D1D2", "siIFN-mD1D2", "anti-TNF mAb"], "paddingInner": 0, "paddingOuter": 0},
        "axis": {"title": ["Piroxicam", "DsiRNA", "Targeting"], "titleX": -52, "titleY": 11, "titleAlign": "left", "titleAngle": 0, "titleBaseline": "top", "titleFontSize": 12, "titleLineHeight": 21.5, "labelExpr": "datum.value=='Healthy'?['-','-','-']:datum.value=='Mock'?['+','-','-']:datum.value=='siIFN-D1D2'?['+','IFNγ','D1D2']:datum.value=='siNC-D1D2'?['+','NC','D1D2']:datum.value=='siIFN-mD1D2'?['+','IFNγ','mD1D2']:['+','-','TNF-α']", "labelAngle": 0, "labelFontSize": 9.5, "labelLineHeight": 21.5, "labelPadding": 8, "labelOverlap": false, "labelBound": false, "labelBaseline": "top"}},
       "xOffset": {"field": "r", "type": "ordinal", "scale": {"paddingOuter": 2}},
       "y": {"field": "v", "type": "quantitative", "scale": {"domain": [0, 1500], "nice": false}, "axis": {"values": [0, 500, 1000, 1500], "format": "d", "title": "TNF-α levels (pg/g colon)", "titleX": -47, "titleY": 64.5, "titleAngle": -90, "titleAlign": "center", "titleBaseline": "middle", "titleFontSize": 11.5, "labelFontSize": 12.5, "labelPadding": 2}},
       "shape": {"field": "g", "type": "nominal", "scale": {"domain": ["Healthy", "Mock", "siIFN-D1D2", "siNC-D1D2", "siIFN-mD1D2", "anti-TNF mAb"], "range": ["circle", "square", "triangle-up", "triangle-down", "diamond", "circle"]}, "legend": null},
       "fill": {"field": "g", "type": "nominal", "scale": {"domain": ["Healthy", "Mock", "siIFN-D1D2", "siNC-D1D2", "siIFN-mD1D2", "anti-TNF mAb"], "range": ["#8c8c8c", "#1db31d", "#1a1aff", "#ff8c1a", "#ff1a1a", "#ffffff"]}, "legend": null},
       "stroke": {"field": "g", "type": "nominal", "scale": {"domain": ["Healthy", "Mock", "siIFN-D1D2", "siNC-D1D2", "siIFN-mD1D2", "anti-TNF mAb"], "range": ["#8c8c8c", "#1db31d", "#1a1aff", "#ff8c1a", "#ff1a1a", "#000000"]}, "legend": null}}},
     {"data": {"name": "sum"}, "transform": [{"filter": "datum.p=='e'"}], "mark": {"type": "rule", "strokeWidth": 1.8, "color": "#000"},
      "encoding": {"x": {"field": "g", "type": "nominal", "scale": {"type": "band", "domain": ["Healthy", "Mock", "siIFN-D1D2", "siNC-D1D2", "siIFN-mD1D2", "anti-TNF mAb"], "paddingInner": 0, "paddingOuter": 0}},
       "y": {"field": "lo", "type": "quantitative", "scale": {"domain": [0, 1500], "nice": false}}, "y2": {"field": "hi"}}},
     {"data": {"name": "sum"}, "transform": [{"filter": "datum.p=='e'"}], "mark": {"type": "tick", "size": 22, "thickness": 1.8, "color": "#000", "opacity": 1},
      "encoding": {"x": {"field": "g", "type": "nominal", "scale": {"type": "band", "domain": ["Healthy", "Mock", "siIFN-D1D2", "siNC-D1D2", "siIFN-mD1D2", "anti-TNF mAb"], "paddingInner": 0, "paddingOuter": 0}},
       "y": {"field": "m", "type": "quantitative", "scale": {"domain": [0, 1500], "nice": false}}}},
     {"data": {"name": "sum"}, "transform": [{"filter": "datum.p=='e'"}], "mark": {"type": "tick", "size": 12, "thickness": 1.8, "color": "#000", "opacity": 1},
      "encoding": {"x": {"field": "g", "type": "nominal", "scale": {"type": "band", "domain": ["Healthy", "Mock", "siIFN-D1D2", "siNC-D1D2", "siIFN-mD1D2", "anti-TNF mAb"], "paddingInner": 0, "paddingOuter": 0}},
       "y": {"field": "lo", "type": "quantitative", "scale": {"domain": [0, 1500], "nice": false}}}},
     {"data": {"name": "sum"}, "transform": [{"filter": "datum.p=='e'"}], "mark": {"type": "tick", "size": 12, "thickness": 1.8, "color": "#000", "opacity": 1},
      "encoding": {"x": {"field": "g", "type": "nominal", "scale": {"type": "band", "domain": ["Healthy", "Mock", "siIFN-D1D2", "siNC-D1D2", "siIFN-mD1D2", "anti-TNF mAb"], "paddingInner": 0, "paddingOuter": 0}},
       "y": {"field": "hi", "type": "quantitative", "scale": {"domain": [0, 1500], "nice": false}}}},
     {"data": {"name": "brk"}, "mark": {"type": "rule", "strokeWidth": 1.2, "color": "#333"},
      "encoding": {"x": {"field": "g", "type": "nominal", "scale": {"type": "band", "domain": ["Healthy", "Mock", "siIFN-D1D2", "siNC-D1D2", "siIFN-mD1D2", "anti-TNF mAb"], "paddingInner": 0, "paddingOuter": 0}}, "x2": {"field": "g2"},
       "y": {"field": "v", "type": "quantitative", "scale": {"domain": [0, 1500], "nice": false}}, "y2": {"field": "v2"}}},
     {"data": {"name": "stars"}, "transform": [{"filter": "datum.p=='e'"}], "mark": {"type": "text", "fontSize": 13, "baseline": "middle", "color": "#222"},
      "encoding": {"x": {"field": "g", "type": "nominal", "scale": {"type": "band", "domain": ["Healthy", "Mock", "siIFN-D1D2", "siNC-D1D2", "siIFN-mD1D2", "anti-TNF mAb"], "paddingInner": 0, "paddingOuter": 0}},
       "y": {"field": "v", "type": "quantitative", "scale": {"domain": [0, 1500], "nice": false}}, "text": {"field": "t"}}},
     {"data": {"name": "stars"}, "transform": [{"filter": "datum.p=='e2'"}], "mark": {"type": "text", "fontSize": 13, "baseline": "middle", "color": "#222", "dx": 16},
      "encoding": {"x": {"field": "g", "type": "nominal", "scale": {"type": "band", "domain": ["Healthy", "Mock", "siIFN-D1D2", "siNC-D1D2", "siIFN-mD1D2", "anti-TNF mAb"], "paddingInner": 0, "paddingOuter": 0}},
       "y": {"field": "v", "type": "quantitative", "scale": {"domain": [0, 1500], "nice": false}}, "text": {"field": "t"}}}
    ]
   }
  ],
  "spacing": 23,
  "resolve": {"scale": {"shape": "independent", "fill": "independent", "stroke": "independent", "color": "independent"}, "legend": {"shape": "independent", "fill": "independent", "stroke": "independent", "color": "independent"}}
 },
 {
  "hconcat": [
   {
    "title": {"text": "f", "offset": 12},
    "width": 194, "height": 129,
    "layer": [
     {"data": {"name": "pts"}, "transform": [{"filter": "datum.p=='f'"}, {"flatten": ["vals"], "as": ["v"]}, {"window": [{"op": "row_number", "as": "r"}], "groupby": ["g"]}],
      "mark": {"type": "point", "size": 34, "strokeWidth": 1.4, "opacity": 1},
      "encoding": {
       "x": {"field": "g", "type": "nominal", "scale": {"type": "band", "domain": ["Healthy", "Mock", "siIFN-D1D2", "siNC-D1D2", "siIFN-mD1D2", "anti-TNF mAb"], "paddingInner": 0, "paddingOuter": 0},
        "axis": {"title": ["Piroxicam", "DsiRNA", "Targeting"], "titleX": -52, "titleY": 11, "titleAlign": "left", "titleAngle": 0, "titleBaseline": "top", "titleFontSize": 12, "titleLineHeight": 21.5, "labelExpr": "datum.value=='Healthy'?['-','-','-']:datum.value=='Mock'?['+','-','-']:datum.value=='siIFN-D1D2'?['+','IFNγ','D1D2']:datum.value=='siNC-D1D2'?['+','NC','D1D2']:datum.value=='siIFN-mD1D2'?['+','IFNγ','mD1D2']:['+','-','TNF-α']", "labelAngle": 0, "labelFontSize": 9.5, "labelLineHeight": 21.5, "labelPadding": 8, "labelOverlap": false, "labelBound": false, "labelBaseline": "top"}},
       "xOffset": {"field": "r", "type": "ordinal", "scale": {"paddingOuter": 2}},
       "y": {"field": "v", "type": "quantitative", "scale": {"domain": [0, 1500], "nice": false}, "axis": {"values": [0, 500, 1000, 1500], "format": "d", "title": "IFN-γ levels (pg/g colon)", "titleX": -43, "titleY": 64.5, "titleAngle": -90, "titleAlign": "center", "titleBaseline": "middle", "titleFontSize": 11.5, "labelFontSize": 12.5, "labelPadding": 2}},
       "shape": {"field": "g", "type": "nominal", "scale": {"domain": ["Healthy", "Mock", "siIFN-D1D2", "siNC-D1D2", "siIFN-mD1D2", "anti-TNF mAb"], "range": ["circle", "square", "triangle-up", "triangle-down", "diamond", "circle"]}, "legend": null},
       "fill": {"field": "g", "type": "nominal", "scale": {"domain": ["Healthy", "Mock", "siIFN-D1D2", "siNC-D1D2", "siIFN-mD1D2", "anti-TNF mAb"], "range": ["#8c8c8c", "#1db31d", "#1a1aff", "#ff8c1a", "#ff1a1a", "#ffffff"]}, "legend": null},
       "stroke": {"field": "g", "type": "nominal", "scale": {"domain": ["Healthy", "Mock", "siIFN-D1D2", "siNC-D1D2", "siIFN-mD1D2", "anti-TNF mAb"], "range": ["#8c8c8c", "#1db31d", "#1a1aff", "#ff8c1a", "#ff1a1a", "#000000"]}, "legend": null}}},
     {"data": {"name": "sum"}, "transform": [{"filter": "datum.p=='f'"}], "mark": {"type": "rule", "strokeWidth": 1.8, "color": "#000"},
      "encoding": {"x": {"field": "g", "type": "nominal", "scale": {"type": "band", "domain": ["Healthy", "Mock", "siIFN-D1D2", "siNC-D1D2", "siIFN-mD1D2", "anti-TNF mAb"], "paddingInner": 0, "paddingOuter": 0}},
       "y": {"field": "lo", "type": "quantitative", "scale": {"domain": [0, 1500], "nice": false}}, "y2": {"field": "hi"}}},
     {"data": {"name": "sum"}, "transform": [{"filter": "datum.p=='f'"}], "mark": {"type": "tick", "size": 22, "thickness": 1.8, "color": "#000", "opacity": 1},
      "encoding": {"x": {"field": "g", "type": "nominal", "scale": {"type": "band", "domain": ["Healthy", "Mock", "siIFN-D1D2", "siNC-D1D2", "siIFN-mD1D2", "anti-TNF mAb"], "paddingInner": 0, "paddingOuter": 0}},
       "y": {"field": "m", "type": "quantitative", "scale": {"domain": [0, 1500], "nice": false}}}},
     {"data": {"name": "sum"}, "transform": [{"filter": "datum.p=='f'"}], "mark": {"type": "tick", "size": 12, "thickness": 1.8, "color": "#000", "opacity": 1},
      "encoding": {"x": {"field": "g", "type": "nominal", "scale": {"type": "band", "domain": ["Healthy", "Mock", "siIFN-D1D2", "siNC-D1D2", "siIFN-mD1D2", "anti-TNF mAb"], "paddingInner": 0, "paddingOuter": 0}},
       "y": {"field": "lo", "type": "quantitative", "scale": {"domain": [0, 1500], "nice": false}}}},
     {"data": {"name": "sum"}, "transform": [{"filter": "datum.p=='f'"}], "mark": {"type": "tick", "size": 12, "thickness": 1.8, "color": "#000", "opacity": 1},
      "encoding": {"x": {"field": "g", "type": "nominal", "scale": {"type": "band", "domain": ["Healthy", "Mock", "siIFN-D1D2", "siNC-D1D2", "siIFN-mD1D2", "anti-TNF mAb"], "paddingInner": 0, "paddingOuter": 0}},
       "y": {"field": "hi", "type": "quantitative", "scale": {"domain": [0, 1500], "nice": false}}}},
     {"data": {"name": "stars"}, "transform": [{"filter": "datum.p=='f'"}], "mark": {"type": "text", "fontSize": 13, "baseline": "middle", "color": "#222"},
      "encoding": {"x": {"field": "g", "type": "nominal", "scale": {"type": "band", "domain": ["Healthy", "Mock", "siIFN-D1D2", "siNC-D1D2", "siIFN-mD1D2", "anti-TNF mAb"], "paddingInner": 0, "paddingOuter": 0}},
       "y": {"field": "v", "type": "quantitative", "scale": {"domain": [0, 1500], "nice": false}}, "text": {"field": "t"}}}
    ]
   },
   {
    "title": {"text": "g", "offset": 12},
    "width": 194, "height": 129,
    "layer": [
     {"data": {"name": "pts"}, "transform": [{"filter": "datum.p=='g'"}, {"flatten": ["vals"], "as": ["v"]}, {"window": [{"op": "row_number", "as": "r"}], "groupby": ["g"]}],
      "mark": {"type": "point", "size": 34, "strokeWidth": 1.4, "opacity": 1},
      "encoding": {
       "x": {"field": "g", "type": "nominal", "scale": {"type": "band", "domain": ["Healthy", "Mock", "siIFN-D1D2", "siNC-D1D2", "siIFN-mD1D2", "anti-TNF mAb"], "paddingInner": 0, "paddingOuter": 0},
        "axis": {"title": ["Piroxicam", "DsiRNA", "Targeting"], "titleX": -49, "titleY": 11, "titleAlign": "left", "titleAngle": 0, "titleBaseline": "top", "titleFontSize": 12, "titleLineHeight": 21.5, "labelExpr": "datum.value=='Healthy'?['-','-','-']:datum.value=='Mock'?['+','-','-']:datum.value=='siIFN-D1D2'?['+','IFNγ','D1D2']:datum.value=='siNC-D1D2'?['+','NC','D1D2']:datum.value=='siIFN-mD1D2'?['+','IFNγ','mD1D2']:['+','-','TNF-α']", "labelAngle": 0, "labelFontSize": 9.5, "labelLineHeight": 21.5, "labelPadding": 8, "labelOverlap": false, "labelBound": false, "labelBaseline": "top"}},
       "xOffset": {"field": "r", "type": "ordinal", "scale": {"paddingOuter": 2}},
       "y": {"field": "v", "type": "quantitative", "scale": {"domain": [0, 2000], "nice": false}, "axis": {"values": [0, 500, 1000, 1500, 2000], "format": "d", "title": "Blood IL-6 (pg/mL)", "titleX": -44, "titleY": 64.5, "titleAngle": -90, "titleAlign": "center", "titleBaseline": "middle", "titleFontSize": 11.5, "labelFontSize": 12.5, "labelPadding": 2}},
       "shape": {"field": "g", "type": "nominal", "scale": {"domain": ["Healthy", "Mock", "siIFN-D1D2", "siNC-D1D2", "siIFN-mD1D2", "anti-TNF mAb"], "range": ["circle", "square", "triangle-up", "triangle-down", "diamond", "circle"]}, "legend": null},
       "fill": {"field": "g", "type": "nominal", "scale": {"domain": ["Healthy", "Mock", "siIFN-D1D2", "siNC-D1D2", "siIFN-mD1D2", "anti-TNF mAb"], "range": ["#8c8c8c", "#1db31d", "#1a1aff", "#ff8c1a", "#ff1a1a", "#ffffff"]}, "legend": null},
       "stroke": {"field": "g", "type": "nominal", "scale": {"domain": ["Healthy", "Mock", "siIFN-D1D2", "siNC-D1D2", "siIFN-mD1D2", "anti-TNF mAb"], "range": ["#8c8c8c", "#1db31d", "#1a1aff", "#ff8c1a", "#ff1a1a", "#000000"]}, "legend": null}}},
     {"data": {"name": "sum"}, "transform": [{"filter": "datum.p=='g'"}], "mark": {"type": "rule", "strokeWidth": 1.8, "color": "#000"},
      "encoding": {"x": {"field": "g", "type": "nominal", "scale": {"type": "band", "domain": ["Healthy", "Mock", "siIFN-D1D2", "siNC-D1D2", "siIFN-mD1D2", "anti-TNF mAb"], "paddingInner": 0, "paddingOuter": 0}},
       "y": {"field": "lo", "type": "quantitative", "scale": {"domain": [0, 2000], "nice": false}}, "y2": {"field": "hi"}}},
     {"data": {"name": "sum"}, "transform": [{"filter": "datum.p=='g'"}], "mark": {"type": "tick", "size": 22, "thickness": 1.8, "color": "#000", "opacity": 1},
      "encoding": {"x": {"field": "g", "type": "nominal", "scale": {"type": "band", "domain": ["Healthy", "Mock", "siIFN-D1D2", "siNC-D1D2", "siIFN-mD1D2", "anti-TNF mAb"], "paddingInner": 0, "paddingOuter": 0}},
       "y": {"field": "m", "type": "quantitative", "scale": {"domain": [0, 2000], "nice": false}}}},
     {"data": {"name": "sum"}, "transform": [{"filter": "datum.p=='g'"}], "mark": {"type": "tick", "size": 12, "thickness": 1.8, "color": "#000", "opacity": 1},
      "encoding": {"x": {"field": "g", "type": "nominal", "scale": {"type": "band", "domain": ["Healthy", "Mock", "siIFN-D1D2", "siNC-D1D2", "siIFN-mD1D2", "anti-TNF mAb"], "paddingInner": 0, "paddingOuter": 0}},
       "y": {"field": "lo", "type": "quantitative", "scale": {"domain": [0, 2000], "nice": false}}}},
     {"data": {"name": "sum"}, "transform": [{"filter": "datum.p=='g'"}], "mark": {"type": "tick", "size": 12, "thickness": 1.8, "color": "#000", "opacity": 1},
      "encoding": {"x": {"field": "g", "type": "nominal", "scale": {"type": "band", "domain": ["Healthy", "Mock", "siIFN-D1D2", "siNC-D1D2", "siIFN-mD1D2", "anti-TNF mAb"], "paddingInner": 0, "paddingOuter": 0}},
       "y": {"field": "hi", "type": "quantitative", "scale": {"domain": [0, 2000], "nice": false}}}},
     {"data": {"name": "stars"}, "transform": [{"filter": "datum.p=='g'"}], "mark": {"type": "text", "fontSize": 13, "baseline": "middle", "color": "#222"},
      "encoding": {"x": {"field": "g", "type": "nominal", "scale": {"type": "band", "domain": ["Healthy", "Mock", "siIFN-D1D2", "siNC-D1D2", "siIFN-mD1D2", "anti-TNF mAb"], "paddingInner": 0, "paddingOuter": 0}},
       "y": {"field": "v", "type": "quantitative", "scale": {"domain": [0, 2000], "nice": false}}, "text": {"field": "t"}}}
    ]
   },
   {
    "title": {"text": "h", "offset": 12},
    "width": 194, "height": 129,
    "layer": [
     {"data": {"name": "pts"}, "transform": [{"filter": "datum.p=='h'"}, {"flatten": ["vals"], "as": ["v"]}, {"window": [{"op": "row_number", "as": "r"}], "groupby": ["g"]}],
      "mark": {"type": "point", "size": 34, "strokeWidth": 1.4, "opacity": 1},
      "encoding": {
       "x": {"field": "g", "type": "nominal", "scale": {"type": "band", "domain": ["Healthy", "Mock", "siIFN-D1D2", "siNC-D1D2", "siIFN-mD1D2", "anti-TNF mAb"], "paddingInner": 0, "paddingOuter": 0},
        "axis": {"title": ["Piroxicam", "DsiRNA", "Targeting"], "titleX": -45, "titleY": 11, "titleAlign": "left", "titleAngle": 0, "titleBaseline": "top", "titleFontSize": 12, "titleLineHeight": 21.5, "labelExpr": "datum.value=='Healthy'?['-','-','-']:datum.value=='Mock'?['+','-','-']:datum.value=='siIFN-D1D2'?['+','IFNγ','D1D2']:datum.value=='siNC-D1D2'?['+','NC','D1D2']:datum.value=='siIFN-mD1D2'?['+','IFNγ','mD1D2']:['+','-','TNF-α']", "labelAngle": 0, "labelFontSize": 9.5, "labelLineHeight": 21.5, "labelPadding": 8, "labelOverlap": false, "labelBound": false, "labelBaseline": "top"}},
       "xOffset": {"field": "r", "type": "ordinal", "scale": {"paddingOuter": 2}},
       "y": {"field": "v", "type": "quantitative", "scale": {"domain": [0, 1500], "nice": false}, "axis": {"values": [0, 500, 1000, 1500], "format": "d", "title": "Blood IL-1β (pg/mL)", "titleX": -41, "titleY": 64.5, "titleAngle": -90, "titleAlign": "center", "titleBaseline": "middle", "titleFontSize": 11.5, "labelFontSize": 12.5, "labelPadding": 2}},
       "shape": {"field": "g", "type": "nominal", "scale": {"domain": ["Healthy", "Mock", "siIFN-D1D2", "siNC-D1D2", "siIFN-mD1D2", "anti-TNF mAb"], "range": ["circle", "square", "triangle-up", "triangle-down", "diamond", "circle"]}, "legend": null},
       "fill": {"field": "g", "type": "nominal", "scale": {"domain": ["Healthy", "Mock", "siIFN-D1D2", "siNC-D1D2", "siIFN-mD1D2", "anti-TNF mAb"], "range": ["#8c8c8c", "#1db31d", "#1a1aff", "#ff8c1a", "#ff1a1a", "#ffffff"]}, "legend": null},
       "stroke": {"field": "g", "type": "nominal", "scale": {"domain": ["Healthy", "Mock", "siIFN-D1D2", "siNC-D1D2", "siIFN-mD1D2", "anti-TNF mAb"], "range": ["#8c8c8c", "#1db31d", "#1a1aff", "#ff8c1a", "#ff1a1a", "#000000"]}, "legend": null}}},
     {"data": {"name": "sum"}, "transform": [{"filter": "datum.p=='h'"}], "mark": {"type": "rule", "strokeWidth": 1.8, "color": "#000"},
      "encoding": {"x": {"field": "g", "type": "nominal", "scale": {"type": "band", "domain": ["Healthy", "Mock", "siIFN-D1D2", "siNC-D1D2", "siIFN-mD1D2", "anti-TNF mAb"], "paddingInner": 0, "paddingOuter": 0}},
       "y": {"field": "lo", "type": "quantitative", "scale": {"domain": [0, 1500], "nice": false}}, "y2": {"field": "hi"}}},
     {"data": {"name": "sum"}, "transform": [{"filter": "datum.p=='h'"}], "mark": {"type": "tick", "size": 22, "thickness": 1.8, "color": "#000", "opacity": 1},
      "encoding": {"x": {"field": "g", "type": "nominal", "scale": {"type": "band", "domain": ["Healthy", "Mock", "siIFN-D1D2", "siNC-D1D2", "siIFN-mD1D2", "anti-TNF mAb"], "paddingInner": 0, "paddingOuter": 0}},
       "y": {"field": "m", "type": "quantitative", "scale": {"domain": [0, 1500], "nice": false}}}},
     {"data": {"name": "sum"}, "transform": [{"filter": "datum.p=='h'"}], "mark": {"type": "tick", "size": 12, "thickness": 1.8, "color": "#000", "opacity": 1},
      "encoding": {"x": {"field": "g", "type": "nominal", "scale": {"type": "band", "domain": ["Healthy", "Mock", "siIFN-D1D2", "siNC-D1D2", "siIFN-mD1D2", "anti-TNF mAb"], "paddingInner": 0, "paddingOuter": 0}},
       "y": {"field": "lo", "type": "quantitative", "scale": {"domain": [0, 1500], "nice": false}}}},
     {"data": {"name": "sum"}, "transform": [{"filter": "datum.p=='h'"}], "mark": {"type": "tick", "size": 12, "thickness": 1.8, "color": "#000", "opacity": 1},
      "encoding": {"x": {"field": "g", "type": "nominal", "scale": {"type": "band", "domain": ["Healthy", "Mock", "siIFN-D1D2", "siNC-D1D2", "siIFN-mD1D2", "anti-TNF mAb"], "paddingInner": 0, "paddingOuter": 0}},
       "y": {"field": "hi", "type": "quantitative", "scale": {"domain": [0, 1500], "nice": false}}}},
     {"data": {"name": "stars"}, "transform": [{"filter": "datum.p=='h'"}], "mark": {"type": "text", "fontSize": 13, "baseline": "middle", "color": "#222"},
      "encoding": {"x": {"field": "g", "type": "nominal", "scale": {"type": "band", "domain": ["Healthy", "Mock", "siIFN-D1D2", "siNC-D1D2", "siIFN-mD1D2", "anti-TNF mAb"], "paddingInner": 0, "paddingOuter": 0}},
       "y": {"field": "v", "type": "quantitative", "scale": {"domain": [0, 1500], "nice": false}}, "text": {"field": "t"}}}
    ]
   }
  ],
  "spacing": 24,
  "resolve": {"scale": {"shape": "independent", "fill": "independent", "stroke": "independent", "color": "independent"}, "legend": {"shape": "independent", "fill": "independent", "stroke": "independent", "color": "independent"}}
 }
]
}
